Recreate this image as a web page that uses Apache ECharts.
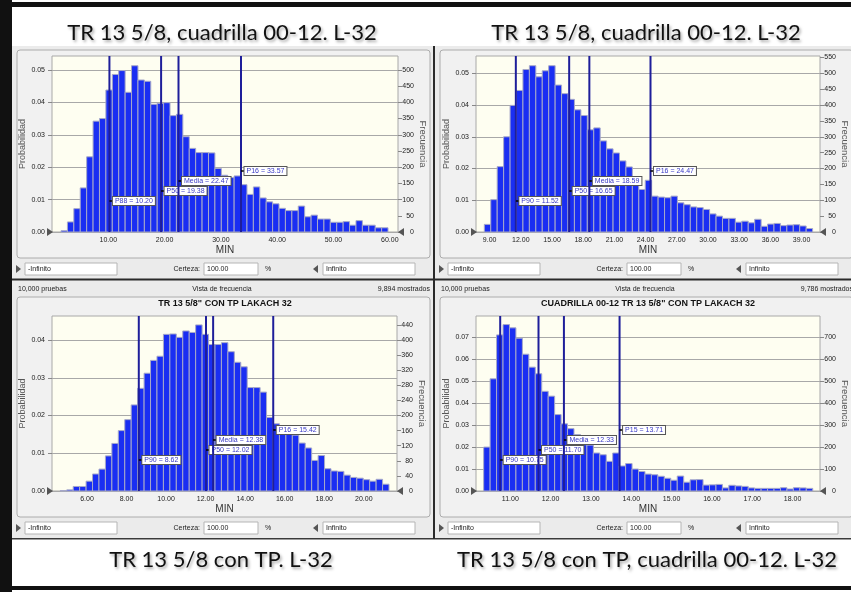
<!DOCTYPE html>
<html><head><meta charset="utf-8">
<script src="https://cdn.jsdelivr.net/npm/echarts@6/dist/echarts.min.js"></script>
<style>html,body{margin:0;padding:0;background:#fff;}#c{width:851px;height:592px;}</style>
</head><body><div id="c"></div>
<script>
// ---------- DATA ----------
const topTitles = ['TR 13 5/8, cuadrilla 00-12. L-32', 'TR 13 5/8, cuadrilla 00-12. L-32'];
const bottomTitles = ['TR 13 5/8 con TP. L-32', 'TR 13 5/8 con TP, cuadrilla 00-12. L-32'];
const chartTitles = ['TR 13 5/8" CON TP LAKACH 32', 'CUADRILLA 00-12 TR 13 5/8" CON TP LAKACH 32'];
const trialsText = ['10,000 pruebas', '10,000 pruebas'];
const shownText = ['9,894 mostrados', '9,786 mostrados'];

// Panel 1 (top-left)
const p1XTicks = [10, 20, 30, 40, 50, 60];
const p1ProbTicks = [0, 0.01, 0.02, 0.03, 0.04, 0.05];
const p1FreqTicks = [0, 50, 100, 150, 200, 250, 300, 350, 400, 450, 500];
const p1BinStart = 1.60, p1BinWidth = 1.139;
const p1Probs = [0.0004,0.0031,0.0072,0.0136,0.0232,0.0342,0.0350,0.0438,0.0486,0.0498,
  0.0431,0.0513,0.0469,0.0465,0.0394,0.0397,0.0399,0.0359,0.0363,0.0294,
  0.0258,0.0245,0.0245,0.0244,0.0196,0.0175,0.0168,0.0173,0.0146,0.0116,
  0.0139,0.0105,0.0093,0.0087,0.0073,0.0066,0.0066,0.0080,0.0047,0.0052,
  0.0040,0.0040,0.0030,0.0030,0.0032,0.0021,0.0035,0.0021,0.0021,0.0013,0.0013];
const p1Marks = [10.20, 19.38, 22.47, 33.57];
const p1MarkNames = ['P88', 'P50', 'Media', 'P16'];

// Panel 2 (top-right)
const p2XTicks = [9, 12, 15, 18, 21, 24, 27, 30, 33, 36, 39];
const p2ProbTicks = [0, 0.01, 0.02, 0.03, 0.04, 0.05];
const p2FreqTicks = [0, 50, 100, 150, 200, 250, 300, 350, 400, 450, 500, 550];
const p2BinStart = 8.49, p2BinWidth = 0.619;
const p2Probs = [0.0024,0.0102,0.0206,0.0300,0.0399,0.0446,0.0512,0.0524,0.0489,0.0508,
  0.0524,0.0463,0.0436,0.0418,0.0385,0.0367,0.0322,0.0328,0.0287,0.0262,
  0.0249,0.0224,0.0205,0.0151,0.0134,0.0163,0.0113,0.0110,0.0108,0.0113,
  0.0092,0.0086,0.0079,0.0077,0.0071,0.0057,0.0050,0.0043,0.0043,0.0031,
  0.0034,0.0029,0.0040,0.0018,0.0025,0.0027,0.0020,0.0022,0.0023,0.0019,0.0011];
const p2Marks = [11.52, 16.65, 18.59, 24.47];
const p2MarkNames = ['P90', 'P50', 'Media', 'P16'];

// Panel 3 (bottom-left)
const p3XTicks = [6, 8, 10, 12, 14, 16, 18, 20];
const p3ProbTicks = [0, 0.01, 0.02, 0.03, 0.04];
const p3FreqTicks = [0, 40, 80, 120, 160, 200, 240, 280, 320, 360, 400, 440];
const p3BinStart = 4.65, p3BinWidth = 0.326;
const p3Probs = [0.0001,0.0003,0.0012,0.0012,0.0026,0.0045,0.0058,0.0093,0.0126,0.0160,
  0.0189,0.0228,0.0272,0.0312,0.0346,0.0357,0.0415,0.0416,0.0407,0.0424,
  0.0420,0.0440,0.0415,0.0388,0.0388,0.0393,0.0369,0.0341,0.0329,0.0274,
  0.0274,0.0262,0.0195,0.0178,0.0173,0.0161,0.0148,0.0127,0.0114,0.0081,
  0.0094,0.0059,0.0053,0.0052,0.0042,0.0036,0.0034,0.0030,0.0026,0.0031,0.0018];
const p3Marks = [8.62, 12.02, 12.38, 15.42];
const p3MarkNames = ['P90', 'P50', 'Media', 'P16'];

// Panel 4 (bottom-right)
const p4XTicks = [11, 12, 13, 14, 15, 16, 17, 18];
const p4ProbTicks = [0, 0.01, 0.02, 0.03, 0.04, 0.05, 0.06, 0.07];
const p4FreqTicks = [0, 100, 200, 300, 400, 500, 600, 700];
const p4BinStart = 10.34, p4BinWidth = 0.16;
const p4Probs = [0.0200,0.0511,0.0711,0.0758,0.0743,0.0696,0.0623,0.0564,0.0534,0.0454,
  0.0432,0.0348,0.0306,0.0284,0.0257,0.0211,0.0209,0.0173,0.0165,0.0135,
  0.0173,0.0114,0.0125,0.0100,0.0089,0.0077,0.0074,0.0067,0.0058,0.0049,
  0.0068,0.0040,0.0051,0.0052,0.0027,0.0028,0.0030,0.0014,0.0026,0.0023,
  0.0021,0.0014,0.0012,0.0012,0.0012,0.0012,0.0015,0.0009,0.0015,0.0014,0.0012];
const p4Marks = [10.75, 11.70, 12.33, 13.71];
const p4MarkNames = ['P90', 'P50', 'Media', 'P15'];

// ---------- STYLE / LAYOUT ----------
const FONT = 'Liberation Sans';
const TITLE_FONT = 'Lato';
const BAR = '#1a2ef2', BAR_EDGE = '#a7a9c8', MARK = '#1e1e9a';
const PANEL_BG = '#ebebeb', FRAME_BG = '#f1f1f1', FRAME_EDGE = '#acacac', PLOT_BG = '#fefef1';

const panels = [
  {probs:p1Probs, start:p1BinStart, width:p1BinWidth, marks:p1Marks, names:p1MarkNames, xTicks:p1XTicks, pTicks:p1ProbTicks, fTicks:p1FreqTicks,
   xMin:0, xMax:61.46, pMax:0.0543, fMax:543, grid:{left:52, top:56, width:346, height:176}},
  {probs:p2Probs, start:p2BinStart, width:p2BinWidth, marks:p2Marks, names:p2MarkNames, xTicks:p2XTicks, pTicks:p2ProbTicks, fTicks:p2FreqTicks,
   xMin:7.69, xMax:40.77, pMax:0.05546, fMax:554.6, grid:{left:476, top:56, width:344, height:176}},
  {probs:p3Probs, start:p3BinStart, width:p3BinWidth, marks:p3Marks, names:p3MarkNames, xTicks:p3XTicks, pTicks:p3ProbTicks, fTicks:p3FreqTicks,
   xMin:4.23, xMax:21.68, pMax:0.04636, fMax:463.6, grid:{left:52, top:316, width:345, height:175}},
  {probs:p4Probs, start:p4BinStart, width:p4BinWidth, marks:p4Marks, names:p4MarkNames, xTicks:p4XTicks, pTicks:p4ProbTicks, fTicks:p4FreqTicks,
   xMin:10.15, xMax:18.68, pMax:0.0797, fMax:797, grid:{left:476, top:316, width:344, height:175}}
];

// ---------- CHROME ----------
const chrome = [];
function R(x,y,w,h,fill,stroke,z,r){ chrome.push({type:'rect', z:(z===undefined?-10:z), silent:true,
  shape:{x:x,y:y,width:w,height:h,r:r||0}, style:{fill:fill, stroke:stroke||null, lineWidth:stroke?1:0}}); }
function T(x,y,text,st,z){ chrome.push({type:'text', z:(z===undefined?10:z), silent:true,
  style:Object.assign({x:x,y:y,text:text,fill:'#222',fontSize:7,fontFamily:FONT,align:'left',verticalAlign:'middle',textAlign:'left',textVerticalAlign:'middle'}, st||{})}); }
function P(points, fill, z){ chrome.push({type:'polygon', z:(z===undefined?10:z), silent:true, shape:{points:points}, style:{fill:fill}}); }

// page frame
R(0,0,851,592,'#ffffff',null,-30);
R(12,46,839,493,PANEL_BG,null,-20);
R(0,0,12,592,'#111111',null,-5);
R(0,2,851,5,'#111111',null,-5);
R(0,586,851,4,'#111111',null,-5);
R(12,278.5,839,2,'#2a2a2a',null,-5);
R(12,538,839,1.5,'#3a3a3a',null,-5);
R(433,46,2,493,'#2a2a2a',null,-5);

const frameRows = [{y:50,h:208,ctrl:269},{y:297,h:220,ctrl:528}];
[0,1].forEach(function(row){
  [0,1].forEach(function(col){
    const ox = col*423, fr = frameRows[row];
    R(17+ox, fr.y, 413, fr.h, FRAME_BG, FRAME_EDGE, -15, 3);
    const cy = fr.ctrl;
    P([[16+ox,cy-4],[21+ox,cy],[16+ox,cy+4]], '#555');
    R(25+ox, cy-6, 92, 12, '#ffffff', '#b5b5b5', 5);
    T(28+ox, cy, '-Infinito');
    T(200+ox, cy, 'Certeza:', {align:'right', textAlign:'right'});
    R(204+ox, cy-6, 54, 12, '#ffffff', '#b5b5b5', 5);
    T(207+ox, cy, '100.00');
    T(265+ox, cy, '%');
    P([[318+ox,cy-4],[313+ox,cy],[318+ox,cy+4]], '#555');
    R(323+ox, cy-6, 92, 12, '#ffffff', '#b5b5b5', 5);
    T(326+ox, cy, 'Infinito');
  });
});
// headers of the lower panels
[0,1].forEach(function(col){
  const ox = col*423;
  T(18+ox, 289, trialsText[col]);
  T(222+ox, 289, 'Vista de frecuencia', {align:'center', textAlign:'center'});
  T(430+ox, 289, shownText[col], {align:'right', textAlign:'right'});
  T(225+ox, 304, chartTitles[col], {align:'center', textAlign:'center', fontSize:9, fontWeight:'bold', fill:'#111'});
});
// certainty grabbers at the plot ends
panels.forEach(function(p){
  const g = p.grid, b = g.top + g.height, l = g.left, r = g.left + g.width;
  P([[l-5,b-4],[l+1,b],[l-5,b+4]], '#555', 20);
  P([[r+6,b-4],[r,b],[r+6,b+4]], '#555', 20);
});
// big titles
const bigTitle = {fontSize:22, fontFamily:TITLE_FONT, fill:'#111', align:'center', textAlign:'center',
  textShadowColor:'rgba(0,0,0,0.35)', textShadowBlur:3, textShadowOffsetX:1.5, textShadowOffsetY:1.5};
T(222, 33, topTitles[0], bigTitle);
T(646, 33, topTitles[1], bigTitle);
T(221, 560, bottomTitles[0], bigTitle);
T(647, 560, bottomTitles[1], bigTitle);

// ---------- AXES & SERIES ----------
const grids = [], xAxes = [], yAxes = [], series = [];
panels.forEach(function(p, i){
  grids.push(Object.assign({show:true, backgroundColor:PLOT_BG, borderColor:'#a8a8a8', borderWidth:1}, p.grid));
  xAxes.push({gridIndex:i, type:'value', min:p.xMin, max:p.xMax,
    axisLine:{show:false}, axisTick:{show:false}, splitLine:{show:false},
    axisLabel:{customValues:p.xTicks, formatter:function(v){return v.toFixed(2);}, fontSize:7, color:'#222', fontFamily:FONT, margin:5},
    name:'MIN', nameLocation:'middle', nameGap:13, nameTextStyle:{fontSize:10, color:'#333', fontFamily:FONT}});
  yAxes.push({gridIndex:i, type:'value', position:'left', min:0, max:p.pMax, interval:0.01,
    axisLine:{show:false},
    axisTick:{show:true, length:4, customValues:p.pTicks, lineStyle:{color:'#888'}},
    axisLabel:{customValues:p.pTicks, formatter:function(v){return v.toFixed(2);}, fontSize:7, color:'#222', fontFamily:FONT, margin:7},
    splitLine:{show:true, lineStyle:{color:'#a8a8a8', width:1}},
    name:'Probabilidad', nameLocation:'middle', nameGap:20, nameRotate:90, nameTextStyle:{fontSize:9, color:'#555', fontFamily:FONT}});
  yAxes.push({gridIndex:i, type:'value', position:'right', min:0, max:p.fMax,
    axisLine:{show:false},
    axisTick:{show:true, length:4, customValues:p.fTicks, lineStyle:{color:'#888'}},
    axisLabel:{customValues:p.fTicks, fontSize:7, color:'#222', fontFamily:FONT, margin:16, align:'right'},
    splitLine:{show:false},
    name:'Frecuencia', nameLocation:'middle', nameGap:19, nameRotate:-90, nameTextStyle:{fontSize:9.5, color:'#555', fontFamily:FONT}});

  series.push({type:'custom', xAxisIndex:i, yAxisIndex:2*i, silent:true, animation:false, z:2,
    data:p.probs.map(function(v,k){ return [p.start + k*p.width, p.start + (k+1)*p.width, v]; }),
    encode:{x:[0,1], y:2},
    renderItem:function(params, api){
      const a = api.coord([api.value(0), api.value(2)]);
      const b = api.coord([api.value(1), 0]);
      return {type:'rect', shape:{x:a[0], y:a[1], width:b[0]-a[0], height:b[1]-a[1]},
        style:{fill:BAR, stroke:BAR_EDGE, lineWidth:1}};
    }});

  series.push({type:'custom', xAxisIndex:i, yAxisIndex:2*i, silent:true, animation:false, z:5, clip:false,
    data:p.marks.map(function(v,k){ return [v, 0, k]; }),
    encode:{x:0, y:1},
    renderItem:function(params, api){
      const v = api.value(0), k = api.value(2);
      const cs = params.coordSys;
      const base = api.coord([v, 0]);
      const x = base[0], ly = base[1] - 31 - 10*k;
      return {type:'group', children:[
        {type:'line', shape:{x1:x, y1:cs.y, x2:x, y2:base[1]}, style:{stroke:MARK, lineWidth:2}},
        {type:'line', shape:{x1:x, y1:ly, x2:x+4, y2:ly}, style:{stroke:'#000', lineWidth:1.5}},
        {type:'text', style:{x:x+3.5, y:ly, text:p.names[k] + ' = ' + v.toFixed(2), fill:'#3838c4', fontSize:7, fontFamily:FONT,
          backgroundColor:'#ffffff', borderColor:'#555', borderWidth:1, padding:[1,2,0,2], align:'left', verticalAlign:'middle'}}
      ]};
    }});
});

const chart = echarts.init(document.getElementById('c'), null, {renderer:'canvas'});
chart.setOption({animation:false, backgroundColor:'#ffffff', grid:grids, xAxis:xAxes, yAxis:yAxes, series:series, graphic:{elements:chrome}});
</script></body></html>
